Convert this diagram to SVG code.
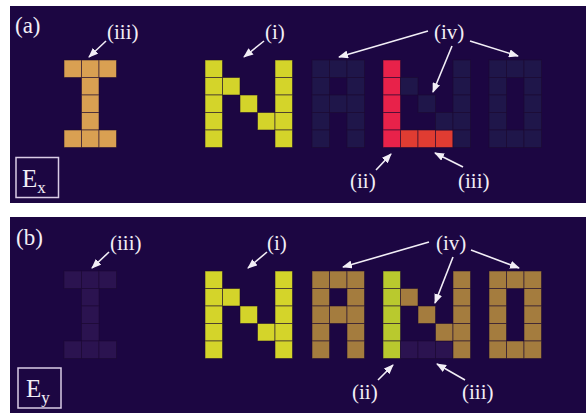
<svg xmlns="http://www.w3.org/2000/svg" width="586" height="413" viewBox="0 0 586 413">
<defs>
<style>
.bg{fill:#1c0642}
.c{stroke:#1c0a30;stroke-opacity:0.55;stroke-width:1}
.or{fill:#d9a052}
.yl{fill:#d4d42a}
.fa{fill:#1f164a}
.rd{fill:#e8224a}
.ro{fill:#e03c32}
.fp{fill:#2b1350}
.br{fill:#a47c3e}
.yg{fill:#b9c92e}
.t{font-family:"Liberation Serif","Times New Roman",serif;fill:#f2eef6}
.lb{font-size:23px}
.sm{font-size:21px}
.ar{stroke:#f2eef6;stroke-width:1.6;fill:none;marker-end:url(#ah)}
.box{fill:none;stroke:#d9cce6;stroke-width:1.5}
</style>
<marker id="ah" markerUnits="userSpaceOnUse" markerWidth="10" markerHeight="8" refX="9" refY="4" orient="auto">
<path d="M0,0 L10,4 L0,8 Z" fill="#f2eef6"/>
</marker>
</defs>
<rect width="586" height="413" fill="#ffffff"/>
<rect class="bg" x="10" y="6" width="576" height="197"/>
<rect class="bg" x="10" y="217" width="576" height="196"/>

<!-- Panel (a) -->
<g id="a-I" class="c">
<rect class="or" x="64" y="60" width="17.5" height="17.5"/><rect class="or" x="81.5" y="60" width="17.5" height="17.5"/><rect class="or" x="99" y="60" width="17.5" height="17.5"/>
<rect class="or" x="81.5" y="77.5" width="17.5" height="17.5"/><rect class="or" x="81.5" y="95" width="17.5" height="17.5"/><rect class="or" x="81.5" y="112.5" width="17.5" height="17.5"/>
<rect class="or" x="64" y="130" width="17.5" height="17.5"/><rect class="or" x="81.5" y="130" width="17.5" height="17.5"/><rect class="or" x="99" y="130" width="17.5" height="17.5"/>
</g>
<g id="a-N" class="c">
<rect class="yl" x="205" y="60" width="17.5" height="17.5"/><rect class="yl" x="205" y="77.5" width="17.5" height="17.5"/><rect class="yl" x="205" y="95" width="17.5" height="17.5"/><rect class="yl" x="205" y="112.5" width="17.5" height="17.5"/><rect class="yl" x="205" y="130" width="17.5" height="17.5"/>
<rect class="yl" x="222.5" y="77.5" width="17.5" height="17.5"/><rect class="yl" x="240" y="95" width="17.5" height="17.5"/><rect class="yl" x="257.5" y="112.5" width="17.5" height="17.5"/>
<rect class="yl" x="275" y="60" width="17.5" height="17.5"/><rect class="yl" x="275" y="77.5" width="17.5" height="17.5"/><rect class="yl" x="275" y="95" width="17.5" height="17.5"/><rect class="yl" x="275" y="112.5" width="17.5" height="17.5"/><rect class="yl" x="275" y="130" width="17.5" height="17.5"/>
</g>
<g id="a-A" class="c">
<rect class="fa" x="312" y="60" width="17.5" height="17.5"/><rect class="fa" x="312" y="77.5" width="17.5" height="17.5"/><rect class="fa" x="312" y="95" width="17.5" height="17.5"/><rect class="fa" x="312" y="112.5" width="17.5" height="17.5"/><rect class="fa" x="312" y="130" width="17.5" height="17.5"/>
<rect class="fa" x="329.5" y="60" width="17.5" height="17.5"/><rect class="fa" x="329.5" y="95" width="17.5" height="17.5"/>
<rect class="fa" x="347" y="60" width="17.5" height="17.5"/><rect class="fa" x="347" y="77.5" width="17.5" height="17.5"/><rect class="fa" x="347" y="95" width="17.5" height="17.5"/><rect class="fa" x="347" y="112.5" width="17.5" height="17.5"/><rect class="fa" x="347" y="130" width="17.5" height="17.5"/>
</g>
<g id="a-N2" class="c">
<rect class="rd" x="383" y="60" width="17.5" height="17.5"/><rect class="rd" x="383" y="77.5" width="17.5" height="17.5"/><rect class="rd" x="383" y="95" width="17.5" height="17.5"/><rect class="rd" x="383" y="112.5" width="17.5" height="17.5"/><rect class="rd" x="383" y="130" width="17.5" height="17.5"/>
<rect class="ro" x="400.5" y="130" width="17.5" height="17.5"/><rect class="ro" x="418" y="130" width="17.5" height="17.5"/><rect class="ro" x="435.5" y="130" width="17.5" height="17.5"/>
<rect class="fa" x="400.5" y="77.5" width="17.5" height="17.5"/><rect class="fa" x="418" y="95" width="17.5" height="17.5"/><rect class="fa" x="435.5" y="112.5" width="17.5" height="17.5"/>
<rect class="fa" x="453" y="60" width="17.5" height="17.5"/><rect class="fa" x="453" y="77.5" width="17.5" height="17.5"/><rect class="fa" x="453" y="95" width="17.5" height="17.5"/><rect class="fa" x="453" y="112.5" width="17.5" height="17.5"/><rect class="fa" x="453" y="130" width="17.5" height="17.5"/>
</g>
<g id="a-D" class="c">
<rect class="fa" x="489" y="60" width="17.5" height="17.5"/><rect class="fa" x="489" y="77.5" width="17.5" height="17.5"/><rect class="fa" x="489" y="95" width="17.5" height="17.5"/><rect class="fa" x="489" y="112.5" width="17.5" height="17.5"/><rect class="fa" x="489" y="130" width="17.5" height="17.5"/>
<rect class="fa" x="506.5" y="60" width="17.5" height="17.5"/><rect class="fa" x="506.5" y="130" width="17.5" height="17.5"/>
<rect class="fa" x="524" y="60" width="17.5" height="17.5"/><rect class="fa" x="524" y="77.5" width="17.5" height="17.5"/><rect class="fa" x="524" y="95" width="17.5" height="17.5"/><rect class="fa" x="524" y="112.5" width="17.5" height="17.5"/><rect class="fa" x="524" y="130" width="17.5" height="17.5"/>
</g>

<!-- Panel (b) -->
<g id="b-I" class="c">
<rect class="fp" x="64" y="271" width="17.5" height="17.5"/><rect class="fp" x="81.5" y="271" width="17.5" height="17.5"/><rect class="fp" x="99" y="271" width="17.5" height="17.5"/>
<rect class="fp" x="81.5" y="288.5" width="17.5" height="17.5"/><rect class="fp" x="81.5" y="306" width="17.5" height="17.5"/><rect class="fp" x="81.5" y="323.5" width="17.5" height="17.5"/>
<rect class="fp" x="64" y="341" width="17.5" height="17.5"/><rect class="fp" x="81.5" y="341" width="17.5" height="17.5"/><rect class="fp" x="99" y="341" width="17.5" height="17.5"/>
</g>
<g id="b-N" class="c">
<rect class="yl" x="205" y="271" width="17.5" height="17.5"/><rect class="yl" x="205" y="288.5" width="17.5" height="17.5"/><rect class="yl" x="205" y="306" width="17.5" height="17.5"/><rect class="yl" x="205" y="323.5" width="17.5" height="17.5"/><rect class="yl" x="205" y="341" width="17.5" height="17.5"/>
<rect class="yl" x="222.5" y="288.5" width="17.5" height="17.5"/><rect class="yl" x="240" y="306" width="17.5" height="17.5"/><rect class="yl" x="257.5" y="323.5" width="17.5" height="17.5"/>
<rect class="yl" x="275" y="271" width="17.5" height="17.5"/><rect class="yl" x="275" y="288.5" width="17.5" height="17.5"/><rect class="yl" x="275" y="306" width="17.5" height="17.5"/><rect class="yl" x="275" y="323.5" width="17.5" height="17.5"/><rect class="yl" x="275" y="341" width="17.5" height="17.5"/>
</g>
<g id="b-A" class="c">
<rect class="br" x="312" y="271" width="17.5" height="17.5"/><rect class="br" x="312" y="288.5" width="17.5" height="17.5"/><rect class="br" x="312" y="306" width="17.5" height="17.5"/><rect class="br" x="312" y="323.5" width="17.5" height="17.5"/><rect class="br" x="312" y="341" width="17.5" height="17.5"/>
<rect class="br" x="329.5" y="271" width="17.5" height="17.5"/><rect class="br" x="329.5" y="306" width="17.5" height="17.5"/>
<rect class="br" x="347" y="271" width="17.5" height="17.5"/><rect class="br" x="347" y="288.5" width="17.5" height="17.5"/><rect class="br" x="347" y="306" width="17.5" height="17.5"/><rect class="br" x="347" y="323.5" width="17.5" height="17.5"/><rect class="br" x="347" y="341" width="17.5" height="17.5"/>
</g>
<g id="b-N2" class="c">
<rect class="yg" x="383" y="271" width="17.5" height="17.5"/><rect class="yg" x="383" y="288.5" width="17.5" height="17.5"/><rect class="yg" x="383" y="306" width="17.5" height="17.5"/><rect class="yg" x="383" y="323.5" width="17.5" height="17.5"/><rect class="yg" x="383" y="341" width="17.5" height="17.5"/>
<rect class="fp" x="400.5" y="341" width="17.5" height="17.5"/><rect class="fp" x="418" y="341" width="17.5" height="17.5"/><rect class="fp" x="435.5" y="341" width="17.5" height="17.5"/>
<rect class="br" x="400.5" y="288.5" width="17.5" height="17.5"/><rect class="br" x="418" y="306" width="17.5" height="17.5"/><rect class="br" x="435.5" y="323.5" width="17.5" height="17.5"/>
<rect class="br" x="453" y="271" width="17.5" height="17.5"/><rect class="br" x="453" y="288.5" width="17.5" height="17.5"/><rect class="br" x="453" y="306" width="17.5" height="17.5"/><rect class="br" x="453" y="323.5" width="17.5" height="17.5"/><rect class="br" x="453" y="341" width="17.5" height="17.5"/>
</g>
<g id="b-D" class="c">
<rect class="br" x="489" y="271" width="17.5" height="17.5"/><rect class="br" x="489" y="288.5" width="17.5" height="17.5"/><rect class="br" x="489" y="306" width="17.5" height="17.5"/><rect class="br" x="489" y="323.5" width="17.5" height="17.5"/><rect class="br" x="489" y="341" width="17.5" height="17.5"/>
<rect class="br" x="506.5" y="271" width="17.5" height="17.5"/><rect class="br" x="506.5" y="341" width="17.5" height="17.5"/>
<rect class="br" x="524" y="271" width="17.5" height="17.5"/><rect class="br" x="524" y="288.5" width="17.5" height="17.5"/><rect class="br" x="524" y="306" width="17.5" height="17.5"/><rect class="br" x="524" y="323.5" width="17.5" height="17.5"/><rect class="br" x="524" y="341" width="17.5" height="17.5"/>
</g>

<!-- connectors -->
<g id="connectors">
<line class="ar" x1="106" y1="41" x2="89" y2="57"/>
<line class="ar" x1="264" y1="41" x2="244" y2="57"/>
<line class="ar" x1="428" y1="31" x2="339" y2="57"/>
<line class="ar" x1="452" y1="46" x2="433" y2="92"/>
<line class="ar" x1="470" y1="41" x2="518" y2="56"/>
<line class="ar" x1="376" y1="170" x2="391" y2="154"/>
<line class="ar" x1="463" y1="167" x2="435" y2="153"/>

<line class="ar" x1="109" y1="252" x2="92" y2="268"/>
<line class="ar" x1="267" y1="252" x2="248" y2="268"/>
<line class="ar" x1="429" y1="242" x2="343" y2="267"/>
<line class="ar" x1="453" y1="257" x2="435" y2="303"/>
<line class="ar" x1="471" y1="250" x2="519" y2="268"/>
<line class="ar" x1="378" y1="380" x2="393" y2="365"/>
<line class="ar" x1="465" y1="380" x2="437" y2="364"/>
</g>

<!-- labels -->
<g id="labels" class="t">
<text class="lb" x="15" y="33">(a)</text>
<text class="sm" x="107" y="39">(iii)</text>
<text class="sm" x="265" y="39">(i)</text>
<text class="sm" x="434" y="39">(iv)</text>
<text class="sm" x="350" y="188">(ii)</text>
<text class="sm" x="458" y="188">(iii)</text>

<text class="lb" x="16" y="245">(b)</text>
<text class="sm" x="110" y="250">(iii)</text>
<text class="sm" x="267" y="250">(i)</text>
<text class="sm" x="436" y="250">(iv)</text>
<text class="sm" x="352" y="399">(ii)</text>
<text class="sm" x="462" y="399">(iii)</text>
</g>
<g id="Ex">
<rect class="box" x="16" y="157.5" width="42.5" height="40"/>
<text class="t" x="22" y="187" font-size="25">E<tspan font-size="17" dy="6">x</tspan></text>
</g>
<g id="Ey">
<rect class="box" x="18" y="368" width="43" height="40"/>
<text class="t" x="26" y="397" font-size="25">E<tspan font-size="17" dy="6">y</tspan></text>
</g>
</svg>
